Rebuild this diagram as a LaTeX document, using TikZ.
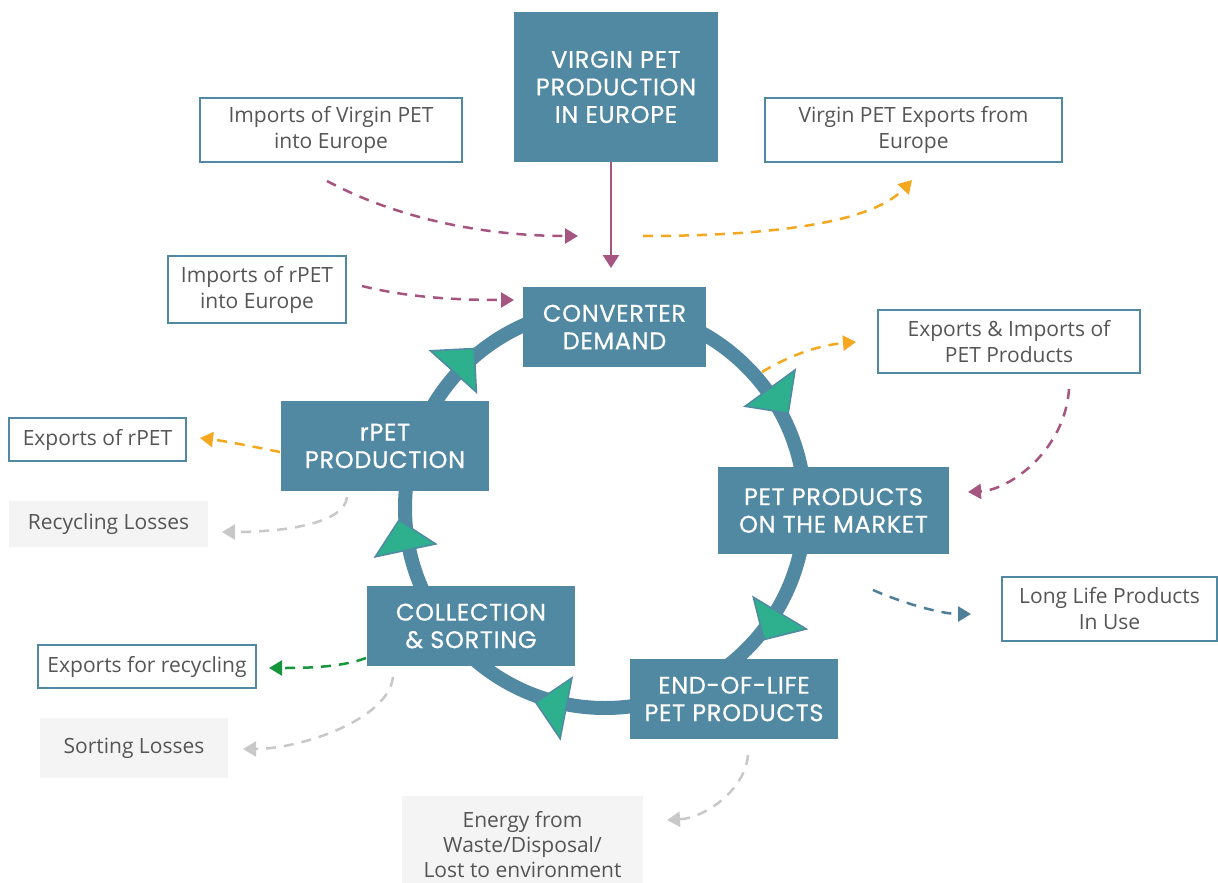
\documentclass[tikz,border=0pt]{standalone}
\usepackage{fontspec}
\setmainfont{Open Sans}
\newfontfamily\headfont[LetterSpace=3,FakeBold=0.6]{Poppins}
\usetikzlibrary{arrows.meta,calc}

\definecolor{boxteal}{RGB}{81,137,163}
\definecolor{arrowgreen}{RGB}{46,175,142}
\definecolor{flowmag}{RGB}{166,84,128}
\definecolor{floworange}{RGB}{245,168,30}
\definecolor{flowgray}{RGB}{200,200,200}
\definecolor{flowgreen}{RGB}{22,150,60}
\definecolor{flowblue}{RGB}{79,127,152}
\definecolor{lossfill}{RGB}{244,244,244}
\definecolor{labeltext}{RGB}{85,85,85}

\tikzset{
  stage/.style={fill=boxteal, text=white, inner sep=0pt, align=center,
    font=\headfont\fontsize{24}{27.5}\selectfont},
  trade/.style={draw=boxteal, line width=1.2pt, fill=white, text=labeltext,
    inner sep=0pt, align=center, font=\fontsize{21}{26}\selectfont},
  loss/.style={fill=lossfill, text=labeltext, inner sep=0pt, align=center,
    font=\fontsize{21}{25}\selectfont},
  flow/.style={line width=2.5pt, dash pattern=on 10pt off 8pt,
    -{Triangle[length=13pt,width=15pt]}},
  turn/.style={fill=arrowgreen, draw=boxteal, line width=1.5pt, line join=miter},
}

\begin{document}
\begin{tikzpicture}[x=1pt,y=-1pt]
	\useasboundingbox (0,0) rectangle (1218,883);

	% the loop
	\coordinate (c) at (605,508);
	\draw[boxteal, line width=14pt] (c) circle[radius=200pt];
	\foreach \a in {222,324,31,101,168}
		\draw[turn] ($(c)+(\a:204)+(\a+90:31)$) -- ($(c)+(\a:204)+(\a:31)$)
			-- ($(c)+(\a:204)+(\a+180:31)$) -- cycle;

	% stages
	\node[stage, minimum width=204pt, minimum height=150pt] (virgin) at (616,87) {VIRGIN PET\\PRODUCTION\\IN EUROPE};
	\node[stage, minimum width=183pt, minimum height=80pt] (conv) at (614.5,327) {CONVERTER\\DEMAND};
	\node[stage, minimum width=208pt, minimum height=90pt] (rpet) at (385,446) {rPET\\PRODUCTION};
	\node[stage, minimum width=231pt, minimum height=87pt] (market) at (833.5,510.5) {PET PRODUCTS\\ON THE MARKET};
	\node[stage, minimum width=208pt, minimum height=80pt] (coll) at (471,626) {COLLECTION\\\& SORTING};
	\node[stage, minimum width=208pt, minimum height=80pt] (eol) at (734,699) {END-OF-LIFE\\PET PRODUCTS};

	% trade flows
	\node[trade, minimum width=262pt, minimum height=64pt] (impv) at (331,130) {Imports of Virgin PET\\into Europe};
	\node[trade, minimum width=297pt, minimum height=64pt] (expv) at (913.5,130) {Virgin PET Exports from\\Europe};
	\node[trade, minimum width=178pt, minimum height=67pt] (imprpet) at (257,289.5) {Imports of rPET\\into Europe};
	\node[trade, minimum width=262pt, minimum height=63pt] (expimp) at (1009,341.5) {Exports \& Imports of\\PET Products};
	\node[trade, minimum width=177pt, minimum height=43pt] (exprpet) at (97.5,439.5) {Exports of rPET};
	\node[trade, minimum width=218pt, minimum height=43pt] (exprec) at (147,666.5) {Exports for recycling};
	\node[trade, minimum width=215pt, minimum height=64pt] (longlife) at (1109.5,609) {Long Life Products\\In Use};

	% losses
	\node[loss, minimum width=199pt, minimum height=46pt] (recloss) at (108.5,524) {\strut Recycling Losses};
	\node[loss, minimum width=188pt, minimum height=60pt] (sortloss) at (134,748) {\strut Sorting Losses};
	\node[loss, minimum width=241pt, minimum height=98pt] (energy) at (522.5,845) {Energy from\\Waste/Disposal/\\Lost to environment};

	% free ends of the flows
	\coordinate (impvA) at (327,181);   \coordinate (impvB) at (578,236);
	\coordinate (virginB) at (611,268);
	\coordinate (expvA) at (643,236);   \coordinate (expvB) at (912,180);
	\coordinate (imprpetA) at (362,286); \coordinate (imprpetB) at (514,300);
	\coordinate (expimpA) at (762,372); \coordinate (expimpB) at (856,342);
	\coordinate (expimpC) at (1069,389); \coordinate (expimpD) at (968,492);
	\coordinate (longA) at (873,590);   \coordinate (longB) at (971,614);
	\coordinate (exprpetA) at (280,452); \coordinate (exprpetB) at (200,438);
	\coordinate (reclossA) at (347,497); \coordinate (reclossB) at (222,532);
	\coordinate (exprecA) at (366,658); \coordinate (exprecB) at (269,668);
	\coordinate (sortA) at (393,677);   \coordinate (sortB) at (243,749);
	\coordinate (energyA) at (748,755); \coordinate (energyB) at (667,820);

	\draw[flowmag, line width=2.5pt, -{Triangle[length=13pt,width=16pt]}] (virgin.south -| virginB) -- (virginB);
	\draw[flow, flowmag] (impvA) .. controls (400,220) and (488,236) .. (impvB);
	\draw[flow, floworange] (expvA) .. controls (760,236) and (870,225) .. (expvB);
	\draw[flow, flowmag] (imprpetA) .. controls (410,298) and (460,300) .. (imprpetB);
	\draw[flow, floworange] (expimpA) .. controls (790,355) and (820,345) .. (expimpB);
	\draw[flow, flowmag] (expimpC) .. controls (1065,450) and (1010,490) .. (expimpD);
	\draw[flow, flowblue] (longA) .. controls (900,602) and (940,614) .. (longB);
	\draw[flow, floworange] (exprpetA) .. controls (250,446) and (225,441) .. (exprpetB);
	\draw[flow, flowgray] (reclossA) .. controls (345,522) and (290,532) .. (reclossB);
	\draw[flow, flowgreen] (exprecA) .. controls (340,668) and (300,668) .. (exprecB);
	\draw[flow, flowgray] (sortA) .. controls (388,720) and (300,749) .. (sortB);
	\draw[flow, flowgray] (energyA) .. controls (745,790) and (705,818) .. (energyB);
\end{tikzpicture}
\end{document}
